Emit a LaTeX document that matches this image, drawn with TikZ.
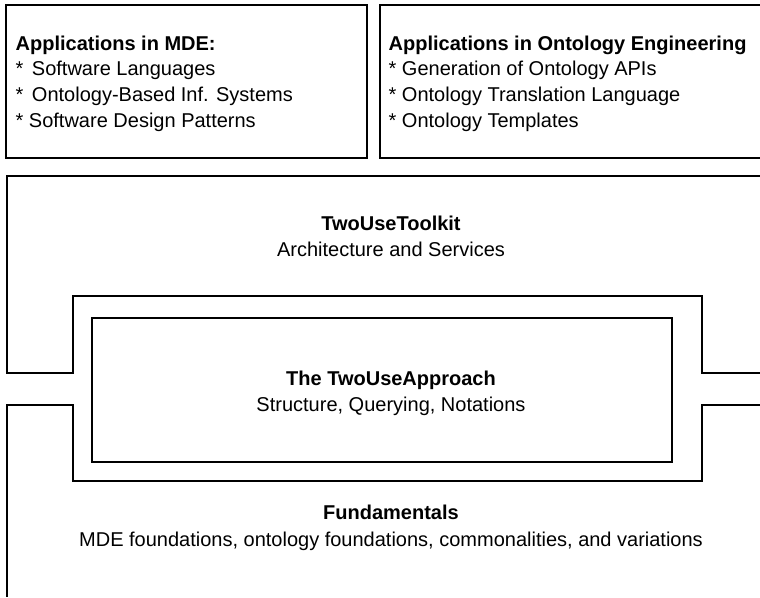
\documentclass[tikz,border=0pt]{standalone}
\usepackage{fontspec}
\setmainfont{Liberation Sans}

\begin{document}
\begin{tikzpicture}[x=1pt,y=-1pt,line width=1.3pt,
    every node/.style={inner sep=0pt,font=\fontsize{20}{24}\selectfont},
    title/.style={anchor=base,font=\fontsize{20}{24}\selectfont\bfseries},
    sub/.style={anchor=base},
    item/.style={anchor=base west}]
  \useasboundingbox (0,0) rectangle (760,597);

  % application boxes
  \draw (6,5) rectangle (367,158);
  \draw (760,5) -- (380,5) -- (380,158) -- (760,158);

  \node[title,anchor=base west] (mde) at (15,50) {Applications in MDE:};
  \foreach \gap/\txt [count=\i] in {3/Software Languages,3/Ontology-Based Inf. Systems,0/Software Design Patterns}
    \node[item] (mde\i) at (15,50+25.8*\i) {*\hspace{\gap pt} \txt};

  \node[title,anchor=base west] (onto) at (388,50) {Applications in Ontology Engineering};
  \foreach \txt [count=\i] in {Generation of Ontology APIs,Ontology Translation Language,Ontology Templates}
    \node[item] (onto\i) at (388,50+25.8*\i) {* \txt};

  % toolkit layer
  \draw (760,176) -- (7,176) -- (7,373) -- (73,373) -- (73,296) -- (702,296) -- (702,373) -- (760,373);
  \node[title] (toolkit) at (391,230) {TwoUseToolkit};
  \node[sub] (toolkitsub) at (391,256) {Architecture and Services};

  % approach
  \draw (92,318) rectangle (672,462);
  \node[title] (approach) at (391,385) {The TwoUseApproach};
  \node[sub] (approachsub) at (391,411) {Structure, Querying, Notations};

  % fundamentals layer
  \draw (760,405) -- (702,405) -- (702,481) -- (73,481) -- (73,405) -- (7,405) -- (7,597);
  \node[title] (fund) at (391,519) {Fundamentals};
  \node[sub] (fundsub) at (391,546) {MDE foundations, ontology foundations, commonalities, and variations};
\end{tikzpicture}
\end{document}
